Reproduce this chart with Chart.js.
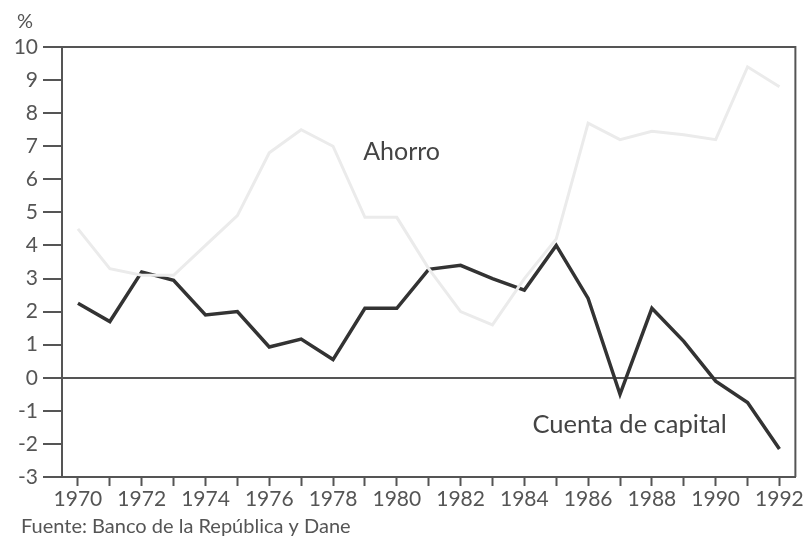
<!DOCTYPE html>
<html>
<head>
<meta charset="utf-8">
<script src="https://cdn.jsdelivr.net/npm/chart.js@4"></script>
<style>
  html, body { margin: 0; padding: 0; background: #fff; }
  #wrap { position: relative; width: 805px; height: 539px; }
</style>
</head>
<body>
<div id="wrap"><canvas id="chart" width="805" height="539"></canvas></div>
<script>
const years = ['1970','1971','1972','1973','1974','1975','1976','1977','1978','1979','1980',
  '1981','1982','1983','1984','1985','1986','1987','1988','1989','1990','1991','1992'];

const ahorro = [4.5, 3.3, 3.1, 3.1, 4.0, 4.9, 6.8, 7.5, 7.0, 4.85, 4.85,
  3.3, 2.0, 1.6, 3.0, 4.2, 7.7, 7.2, 7.45, 7.35, 7.2, 9.4, 8.8];

const cuentaCapital = [2.25, 1.7, 3.2, 2.95, 1.9, 2.0, 0.93, 1.17, 0.55, 2.1, 2.1,
  3.28, 3.4, 3.0, 2.65, 4.0, 2.4, -0.5, 2.1, 1.1, -0.1, -0.75, -2.15];

const yTicks = [-3, -2, -1, 0, 1, 2, 3, 4, 5, 6, 7, 8, 9, 10];

const axisColor = '#555';
const font = 'Lato, "Open Sans", sans-serif';

// frame, labels and source line
const extras = {
  id: 'extras',
  afterDraw(chart) {
    const { ctx, chartArea: a, scales } = chart;
    ctx.save();
    ctx.strokeStyle = axisColor;
    ctx.lineWidth = 2;
    ctx.beginPath();
    ctx.moveTo(a.left, a.top);
    ctx.lineTo(a.right, a.top);
    ctx.lineTo(a.right, a.bottom);
    ctx.stroke();

    ctx.fillStyle = '#444';
    ctx.textAlign = 'center';
    ctx.textBaseline = 'middle';
    const x = scales.x, y = scales.y;
    ctx.font = '25px ' + font;
    ctx.fillText('Ahorro', x.getPixelForValue(10.15), y.getPixelForValue(6.83));
    ctx.font = '25.5px ' + font;
    ctx.fillText('Cuenta de capital', x.getPixelForValue(17.3), y.getPixelForValue(-1.43));

    ctx.fillStyle = '#555';
    ctx.textAlign = 'left';
    ctx.font = '20px ' + font;
    ctx.fillText('%', 17, 22);
    ctx.fillText('Fuente: Banco de la República y Dane', 21, 527);
    ctx.restore();
  }
};

new Chart(document.getElementById('chart'), {
  type: 'line',
  data: {
    labels: years,
    datasets: [{
      label: 'Ahorro',
      data: ahorro,
      borderColor: '#ebebeb',
      borderWidth: 3,
      pointRadius: 0,
      tension: 0
    }, {
      label: 'Cuenta de capital',
      data: cuentaCapital,
      borderColor: '#333',
      borderWidth: 3.5,
      pointRadius: 0,
      tension: 0
    }]
  },
  options: {
    responsive: false,
    animation: false,
    layout: { padding: { top: 47, right: 9, left: 0, bottom: 0 } },
    plugins: { legend: { display: false }, tooltip: { enabled: false } },
    scales: {
      x: {
        offset: true,
        border: { color: axisColor, width: 2 },
        grid: { offset: false, drawOnChartArea: false, tickLength: 9, tickWidth: 2, tickColor: axisColor },
        ticks: {
          autoSkip: false,
          maxRotation: 0,
          padding: 1,
          color: '#555',
          font: { family: font, size: 21 },
          callback: (v, i) => i % 2 === 0 ? years[i] : ''
        },
        afterFit: s => { s.height = 62; }
      },
      y: {
        min: -3,
        max: 10,
        afterBuildTicks: s => { s.ticks = yTicks.map(v => ({ value: v })); },
        border: { color: axisColor, width: 2 },
        grid: {
          tickLength: 19,
          tickWidth: 2,
          tickColor: axisColor,
          lineWidth: 2,
          color: c => c.tick && c.tick.value === 0 ? axisColor : 'transparent'
        },
        ticks: { padding: 5, color: '#555', font: { family: font, size: 21 } },
        afterFit: s => { s.width = 62; }
      }
    }
  },
  plugins: [extras]
});
</script>
</body>
</html>
